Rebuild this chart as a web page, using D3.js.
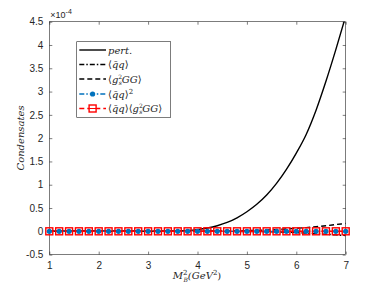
<!DOCTYPE html>
<html>
<head>
<meta charset="utf-8">
<script src="https://cdn.jsdelivr.net/npm/d3@7"></script>
<style>
  html, body { margin: 0; padding: 0; background: #fff; }
  svg { display: block; }
  .tick text { font-family: "Liberation Sans", Arial, sans-serif; font-size: 10px; fill: #262626; }
  .math { font-family: "DejaVu Serif", "Liberation Serif", serif; font-style: italic; fill: #262626; }
</style>
</head>
<body>
<svg id="chart" width="382" height="286"></svg>
<script>
// ---- data (units of 1e-4) ----
var mb2 = [1, 1.2, 1.4, 1.6, 1.8, 2, 2.2, 2.4, 2.6, 2.8, 3, 3.2, 3.4, 3.6, 3.8, 4, 4.2, 4.4, 4.6, 4.8, 5, 5.2, 5.4, 5.6, 5.8, 6, 6.2, 6.4, 6.6, 6.8, 7];
var pert = [0, 0, 0, 0, 0, 0, 0, 0, 0, 0, 0, 0.0005, 0.002, 0.007, 0.017, 0.037, 0.07, 0.12, 0.19, 0.29, 0.42, 0.58, 0.78, 1.03, 1.33, 1.68, 2.08, 2.6, 3.22, 3.9, 4.62];
var qq = [0, 0, 0, 0, 0, 0, 0, 0, 0, 0, 0, 0, 0, 0, 0, 0, 0, 0, -0.001, -0.002, -0.004, -0.006, -0.009, -0.013, -0.02, -0.028, -0.038, -0.05, -0.063, -0.077, -0.09];
var gg = [0, 0, 0, 0, 0, 0, 0, 0, 0, 0, 0, 0, 0, 0.001, 0.002, 0.003, 0.005, 0.007, 0.009, 0.012, 0.015, 0.02, 0.028, 0.038, 0.05, 0.065, 0.08, 0.1, 0.12, 0.145, 0.17];
var qq2 = mb2.map(function () { return 0; });
var qqgg = mb2.map(function () { return 0; });
var xTicks = [1, 2, 3, 4, 5, 6, 7];
var yTicks = [-0.5, 0, 0.5, 1, 1.5, 2, 2.5, 3, 3.5, 4, 4.5];

var svg = d3.select("#chart");
var L = 49.3, R = 345.7, T = 21.7, B = 254.6;
var x = d3.scaleLinear().domain([1, 7]).range([L, R]);
var y = d3.scaleLinear().domain([-0.5, 4.5]).range([B, T]);
var axisCol = "#262626";

svg.append("defs").append("clipPath").attr("id", "plotclip")
  .append("rect").attr("x", L).attr("y", T).attr("width", R - L).attr("height", B - T);

// ---- axes ----
function styleAxis(g) {
  g.select(".domain").remove();
  g.selectAll(".tick line").attr("stroke", axisCol).attr("stroke-width", 0.6);
}
svg.append("g").attr("transform", "translate(0," + B + ")")
  .call(d3.axisBottom(x).tickValues(xTicks).tickSizeInner(-3).tickSizeOuter(0).tickPadding(7).tickFormat(d3.format("d")))
  .call(styleAxis);
svg.append("g").attr("transform", "translate(0," + T + ")")
  .call(d3.axisTop(x).tickValues(xTicks).tickSizeInner(-3).tickSizeOuter(0).tickFormat(""))
  .call(styleAxis);
svg.append("g").attr("transform", "translate(" + L + ",0)")
  .call(d3.axisLeft(y).tickValues(yTicks).tickSizeInner(-3).tickSizeOuter(0).tickPadding(6).tickFormat(function (d) { return String(d); }))
  .call(styleAxis);
svg.append("g").attr("transform", "translate(" + R + ",0)")
  .call(d3.axisRight(y).tickValues(yTicks).tickSizeInner(-3).tickSizeOuter(0).tickFormat(""))
  .call(styleAxis);
svg.append("rect").attr("x", L).attr("y", T).attr("width", R - L).attr("height", B - T)
  .attr("fill", "none").attr("stroke", axisCol).attr("stroke-width", 0.6);

// exponent label
var ex = svg.append("text").attr("x", L + 1).attr("y", T - 4)
  .style("font-family", "Liberation Sans, Arial, sans-serif").style("font-size", "9px").style("fill", axisCol);
ex.append("tspan").text("×10");
ex.append("tspan").attr("dy", -4).style("font-size", "7px").text("-4");

// ---- math text: parts = [text, italic?, size, baseline shift (up), dx] ----
function mathText(t, parts) {
  var cur = 0;
  parts.forEach(function (p) {
    var s = t.append("tspan").text(p[0]).style("font-style", p[1] ? "italic" : "normal")
      .attr("dy", cur - p[3]);
    if (p[2]) s.style("font-size", p[2] + "px");
    if (p[4]) s.attr("dx", p[4]);
    cur = p[3];
  });
}

// ---- lines ----
var plot = svg.append("g").attr("clip-path", "url(#plotclip)");
function draw(vals, col, dash, w) {
  var line = d3.line().x(function (d, i) { return x(mb2[i]); }).y(function (d) { return y(d); }).curve(d3.curveMonotoneX);
  plot.append("path").datum(vals).attr("d", line).attr("fill", "none")
    .attr("stroke", col).attr("stroke-width", w).attr("stroke-dasharray", dash);
}
draw(pert, "#000", null, 1.4);
draw(qq, "#000", "5,2,1.5,2", 1.4);
draw(gg, "#000", "5,3", 1.4);
draw(qq2, "#0072BD", "5,2,1.5,2", 1.2);
svg.append("g").selectAll("circle").data(qq2).join("circle")
  .attr("cx", function (d, i) { return x(mb2[i]); }).attr("cy", function (d) { return y(d); })
  .attr("r", 2.6).attr("fill", "#0072BD");
draw(qqgg, "#FF0000", "5,3", 1.4);
svg.append("g").selectAll("rect").data(qqgg).join("rect")
  .attr("x", function (d, i) { return x(mb2[i]) - 3.5; }).attr("y", function (d) { return y(d) - 3.5; })
  .attr("width", 7).attr("height", 7).attr("fill", "none").attr("stroke", "#FF0000").attr("stroke-width", 1.4);

// ---- axis labels ----
var xl = svg.append("text").attr("class", "math").attr("x", 197).attr("y", 279)
  .attr("text-anchor", "middle").style("font-size", "10px");
mathText(xl, [["M", true, 0, 0], ["2", false, 7, 4], ["B", true, 6, -3, -4], ["(GeV", true, 0, 0], ["2", false, 7, 4], [")", false, 0, 0]]);

svg.append("text").attr("class", "math").attr("transform", "translate(24,138) rotate(-90)")
  .attr("text-anchor", "middle").style("font-size", "10px").text("Condensates");

// ---- legend ----
var lg = svg.append("g");
lg.append("rect").attr("x", 76.7).attr("y", 41.7).attr("width", 94).attr("height", 75.6)
  .attr("fill", "#fff").attr("stroke", axisCol).attr("stroke-width", 0.6);
var GG = [["⟨", false, 0, 0], ["g", true, 0, 0], ["2", false, 6, 4], ["s", true, 6, -2, -3.5], ["GG", true, 0, 0], ["⟩", false, 0, 0]];
var QQ = [["⟨", false, 0, 0], ["q̄q", true, 0, 0], ["⟩", false, 0, 0]];
var items = [
  { col: "#000", dash: null, mk: null, lab: [["pert.", true, 0, 0]] },
  { col: "#000", dash: "5,2,1.5,2", mk: null, lab: QQ },
  { col: "#000", dash: "5,3", mk: null, lab: GG },
  { col: "#0072BD", dash: "5,2,1.5,2", mk: "c", lab: QQ.concat([["2", false, 7, 4]]) },
  { col: "#FF0000", dash: "5,3", mk: "s", lab: QQ.concat(GG) }
];
var rowY = [50, 64.5, 79, 94, 108.5];
items.forEach(function (it, k) {
  var yy = rowY[k];
  lg.append("line").attr("x1", 79.3).attr("x2", 106).attr("y1", yy).attr("y2", yy)
    .attr("stroke", it.col).attr("stroke-width", 1.4).attr("stroke-dasharray", it.dash);
  if (it.mk === "c") lg.append("circle").attr("cx", 92.6).attr("cy", yy).attr("r", 2.6).attr("fill", it.col);
  if (it.mk === "s") {
    lg.append("rect").attr("x", 89.1).attr("y", yy - 3.5).attr("width", 7).attr("height", 7)
      .attr("fill", "#fff").attr("stroke", it.col).attr("stroke-width", 1.4);
    lg.append("line").attr("x1", 89.1).attr("x2", 96.1).attr("y1", yy).attr("y2", yy).attr("stroke", it.col).attr("stroke-width", 1);
  }
  var t = lg.append("text").attr("class", "math").attr("x", 108).attr("y", yy + 3.5).style("font-size", "10px");
  mathText(t, it.lab);
});
</script>
</body>
</html>
